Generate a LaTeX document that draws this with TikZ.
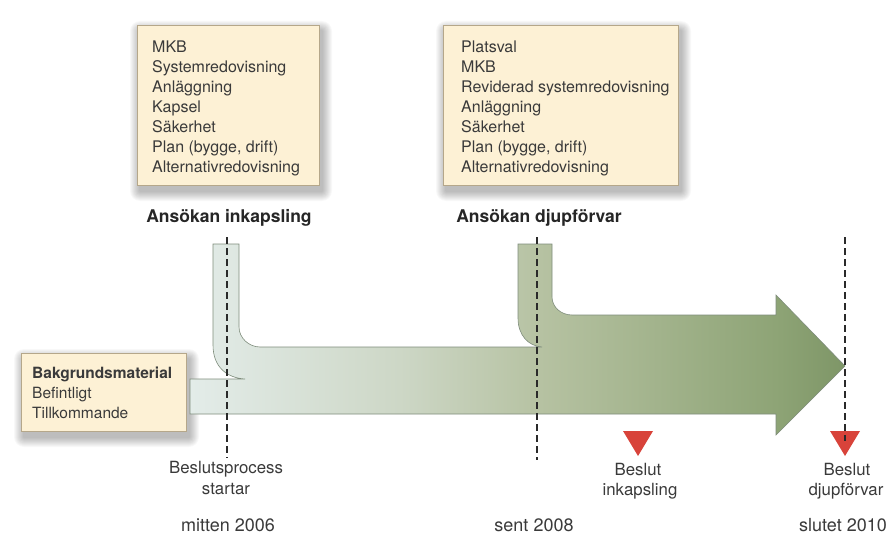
\documentclass[tikz,border=0pt]{standalone}
\usepackage{fontspec}
\setmainfont{TeX Gyre Heros}
\usetikzlibrary{calc}
\definecolor{cream}{HTML}{FDF1D5}
\definecolor{creamline}{HTML}{B5A78A}
\definecolor{txt}{HTML}{3A3A3A}
\definecolor{g0}{HTML}{E3ECE9}
\definecolor{g1}{HTML}{CDD7C6}
\definecolor{g2}{HTML}{B6C2A2}
\definecolor{g3}{HTML}{8EA476}
\definecolor{g4}{HTML}{7E9667}
\definecolor{pipeline}{HTML}{7F8D7C}
\definecolor{redmark}{HTML}{D8433A}
\definecolor{dashcol}{HTML}{2A2A2A}
\pgfdeclarehorizontalshading{pipeshade}{100bp}{color(0bp)=(g0); color(25bp)=(g0); color(41bp)=(g1); color(51.7bp)=(g2); color(69.7bp)=(g3); color(75bp)=(g4); color(100bp)=(g4)}
\newcommand{\softshadow}[4]{%
  \foreach \i in {1,...,10}{%
    \fill[black,opacity=0.026,rounded corners=\i pt] ({#1-\i+3},{#2-\i+6}) rectangle ({#3+\i+3},{#4+\i+6});}}
\tikzset{
  infobox/.style={draw=creamline, fill=cream, line width=0.6pt, inner sep=0pt},
  boxtext/.style={font=\fontsize{16}{20}\selectfont, align=left, inner sep=0pt, text=txt},
  header/.style={font=\fontsize{17.5}{21}\selectfont\bfseries, inner sep=0pt, text=black!85},
  label/.style={font=\fontsize{16.8}{21}\selectfont, inner sep=0pt, text=txt},
  yearlabel/.style={font=\fontsize{18}{21}\selectfont, inner sep=0pt, text=txt},
  dashline/.style={draw=dashcol, line width=1.7pt, dash pattern=on 7pt off 4pt},
  marker/.style={fill=redmark, draw=none}
}
\begin{document}
\begin{tikzpicture}[x=1pt,y=-1pt]
\useasboundingbox[fill=white] (0,0) rectangle (892,535);

% shadows
\softshadow{137}{25}{319}{185}
\softshadow{443}{25}{678}{185}
\softshadow{21}{353}{186}{431}

% top boxes
\node[infobox, minimum width=182pt, minimum height=160pt, anchor=north west] (box1) at (137,25) {};
\node[infobox, minimum width=235pt, minimum height=160pt, anchor=north west] (box2) at (443,25) {};
\node[boxtext, anchor=north west] (t1) at (152,40.8) {MKB\\Systemredovisning\\Anläggning\\Kapsel\\Säkerhet\\Plan (bygge, drift)\\Alternativredovisning};
\node[boxtext, anchor=north west] (t2) at (461,40.8) {Platsval\\MKB\\Reviderad systemredovisning\\Anläggning\\Säkerhet\\Plan (bygge, drift)\\Alternativredovisning};

\node[header, anchor=base] (h1) at (229,222) {Ansökan inkapsling};
\node[header, anchor=base] (h2) at (539,222) {Ansökan djupförvar};

% pipe / arrow shape
\path[shading=pipeshade, draw=pipeline, line width=0.6pt, line join=miter]
  (190,379) -- (245,379)
  .. controls (228,378) and (213,368) .. (213,345)
  -- (213,244) -- (239,244) -- (239,327)
  .. controls (239,338) and (249,347) .. (260,347)
  -- (542,347)
  .. controls (528,346) and (518,335) .. (518,318)
  -- (518,244) -- (552,244) -- (552,297)
  .. controls (552,307) and (561,315) .. (572,315)
  -- (776,315) -- (776,295) -- (845,366) -- (776,435) -- (776,414)
  -- (190,414) -- cycle;

% background material box
\node[infobox, minimum width=165pt, minimum height=78pt, anchor=north west] (box3) at (21,353) {};
\node[boxtext, font=\fontsize{15.5}{20}\selectfont, anchor=north west] (t3) at (32,367) {{\bfseries Bakgrundsmaterial}\\Befintligt\\Tillkommande};

% markers
\coordinate (m1a) at (623,431); \coordinate (m1b) at (653,431); \coordinate (m1c) at (638,456);
\coordinate (m2a) at (830,431); \coordinate (m2b) at (860,431); \coordinate (m2c) at (845,456);
\fill[marker] (m1a) -- (m1b) -- (m1c) -- cycle;
\fill[marker] (m2a) -- (m2b) -- (m2c) -- cycle;

% dashed time lines
\coordinate (d1top) at (227,237); \coordinate (d1bot) at (227,458);
\coordinate (d2top) at (537,237); \coordinate (d2bot) at (537,460);
\coordinate (d3top) at (845,237); \coordinate (d3bot) at (845,441);
\draw[dashline] (d1top) -- (d1bot);
\draw[dashline] (d2top) -- (d2bot);
\draw[dashline] (d3top) -- (d3bot);

% bottom labels
\node[label, anchor=base] (l1a) at (226,473) {Beslutsprocess};
\node[label, anchor=base] (l1b) at (226,494) {startar};
\node[label, anchor=base] (l2a) at (638,475) {Beslut};
\node[label, anchor=base] (l2b) at (640,495) {inkapsling};
\node[label, anchor=base] (l3a) at (847,475) {Beslut};
\node[label, anchor=base] (l3b) at (846,495) {djupförvar};
\node[yearlabel, anchor=base] (y1) at (228,531) {mitten 2006};
\node[yearlabel, anchor=base] (y2) at (534,531) {sent 2008};
\node[yearlabel, anchor=base] (y3) at (843,531) {slutet 2010};
\end{tikzpicture}
\end{document}
